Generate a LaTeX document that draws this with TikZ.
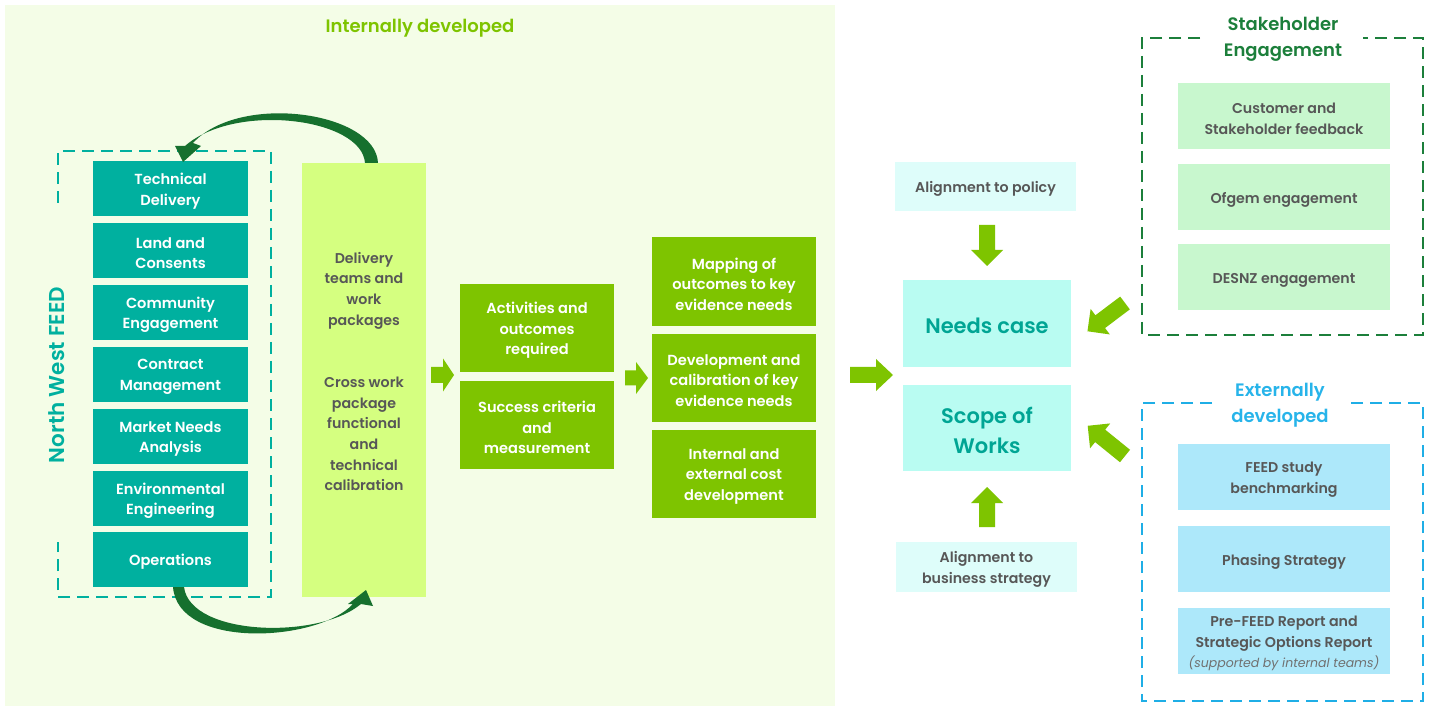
\documentclass[tikz,border=0pt]{standalone}
\usepackage{fontspec}
\setmainfont{Poppins}
% semibold weight for headings and labels
\IfFontExistsTF{Poppins SemiBold}
  {\newfontfamily\semifont{Poppins SemiBold}}
  {\newfontfamily\semifont{Poppins}[FakeBold=1.5]}

\definecolor{bgint}{HTML}{F4FDE7}
\definecolor{tealbx}{HTML}{00B09F}
\definecolor{tealtxt}{HTML}{00A594}
\definecolor{limebx}{HTML}{D5FF80}
\definecolor{grnbx}{HTML}{7EC400}
\definecolor{cyanlt}{HTML}{DEFDFA}
\definecolor{cyanbx}{HTML}{B9FCF2}
\definecolor{stkbx}{HTML}{C8F7CE}
\definecolor{extbx}{HTML}{ADE8FA}
\definecolor{stkdash}{HTML}{1C7F3B}
\definecolor{extdash}{HTML}{1FAEE6}
\definecolor{exttitle}{HTML}{27B4EA}
\definecolor{darkarc}{HTML}{16702E}
\definecolor{greytxt}{HTML}{575757}

% block arrow: #1 start coordinate, #2 angle, #3 length, #4 shaft width, #5 head width, #6 head length
\newcommand\blockarrow[6]{%
  \fill[grnbx,shift={(#1)},rotate=#2]
    (0,#4/2) -- ({#3-#6},#4/2) -- ({#3-#6},#5/2) -- (#3,0)
    -- ({#3-#6},-#5/2) -- ({#3-#6},-#4/2) -- (0,-#4/2) -- cycle;}

\tikzset{
  bx/.style={inner sep=0pt, align=center},
  wtext/.style={bx, text=white, font=\semifont\fontsize{14.6}{20.5}\selectfont},
  gtext/.style={bx, text=greytxt, font=\semifont\fontsize{14.2}{20.7}\selectfont},
  ctext/.style={bx, text=tealtxt, font=\semifont\fontsize{21}{30}\selectfont},
  tealbox/.style={bx, fill=tealbx, minimum width=155, minimum height=55,
    label={[wtext, yshift=-2.5]center:{#1}}},
  greenbox/.style={bx, fill=grnbx, minimum height=88,
    label={[wtext, yshift=-2.5]center:{#1}}},
  lightbox/.style={bx, minimum width=212, minimum height=66,
    label={[gtext, yshift=-2.5]center:{#1}}},
  aligbox/.style={bx, fill=cyanlt, minimum width=181,
    label={[gtext, yshift=-2.5]center:{#1}}},
  bigbox/.style={bx, fill=cyanbx, minimum width=168,
    label={[ctext, yshift=-2]center:{#1}}},
  dashbox/.style={line width=2pt, dash pattern=on 12pt off 7pt},
  title/.style={bx, font=\semifont\fontsize{18}{26}\selectfont},
}

\begin{document}
\begin{tikzpicture}[x=1pt,y=-1pt]
\useasboundingbox (0,0) rectangle (1432,708);
\fill[white] (0,0) rectangle (1432,708);

% internally developed area
\fill[bgint] (5,5) rectangle (835,706);
\node[title, text=grnbx] (ttl) at (420,28) {Internally developed};

% North West FEED group
\draw[dashbox, draw=tealbx] (58,203) -- (58,151) -- (271,151) -- (271,597) -- (58,597) -- (58,542);
\node[bx, text=tealbx, rotate=90, font=\semifont\fontsize{21.5}{24}\selectfont] (nwf) at (57,375) {North West FEED};

\node[tealbox={Technical\\Delivery}] (td) at (170.5,188.5) {};
\node[tealbox={Land and\\Consents}] (lc) at (170.5,250.5) {};
\node[tealbox={Community\\Engagement}] (ce) at (170.5,312.5) {};
\node[tealbox={Contract\\Management}] (cm) at (170.5,374.5) {};
\node[tealbox={Market Needs\\Analysis}] (mn) at (170.5,436.5) {};
\node[tealbox={Environmental\\Engineering}] (ee) at (170.5,498.5) {};
\node[tealbox={Operations}] (op) at (170.5,559.5) {};

% delivery teams column
\node[bx, fill=limebx, minimum width=124, minimum height=434] (yb) at (364,380) {};
\node[gtext] (yt1) at (364,290.5) {Delivery\\teams and\\work\\packages};
\node[gtext] (yt2) at (364,434) {Cross work\\package\\functional\\and\\technical\\calibration};

% feedback loops between the team boxes and the delivery column
\fill[darkarc] (378,163) .. controls (376,112) and (240,92) .. (193,143)
  -- (201,146) -- (183,162) -- (175,146) -- (185,146)
  .. controls (235,102) and (362,118) .. (365,163) -- cycle;
\fill[darkarc] (173,587) .. controls (178,650) and (318,642) .. (353,604)
  -- (348,604) -- (366,590) -- (373,606) -- (361,604)
  .. controls (318,640) and (190,636) .. (184,587) -- cycle;

% activities column
\node[greenbox={Activities and\\outcomes\\required}, minimum width=154] (act) at (537,328) {};
\node[greenbox={Success criteria\\and\\measurement}, minimum width=154] (suc) at (537,425) {};

% evidence column
\node[greenbox={Mapping of\\outcomes to key\\evidence needs}, minimum width=164, minimum height=89] (map) at (734,281.5) {};
\node[greenbox={Development and\\calibration of key\\evidence needs}, minimum width=164] (dev) at (734,378) {};
\node[greenbox={Internal and\\external cost\\development}, minimum width=164] (cost) at (734,474) {};

% flow arrows
\coordinate (a1) at (431,375);
\coordinate (a2) at (625,378);
\coordinate (a3) at (850,375);
\coordinate (a4) at (987,225);
\coordinate (a5) at (987,527);
\coordinate (a6) at (1125,303);
\coordinate (a7) at (1125,456);
\blockarrow{a1}{0}{23}{16}{33}{11}
\blockarrow{a2}{0}{23}{15}{32}{12}
\blockarrow{a3}{0}{43}{16}{32}{17}
\blockarrow{a4}{-90}{41}{16}{32}{16}
\blockarrow{a5}{90}{40}{16}{32}{16}
\blockarrow{a6}{217}{47}{16}{32}{16}
\blockarrow{a7}{141}{48}{16}{32}{16}

% outcomes
\node[aligbox={Alignment to policy}, minimum height=49] (pol) at (985.5,186.5) {};
\node[bigbox={Needs case}, minimum height=87] (need) at (987,323.5) {};
\node[bigbox={Scope of\\Works}, minimum height=86] (scope) at (987,428) {};
\node[aligbox={Alignment to\\business strategy}, minimum height=50] (biz) at (986.5,567) {};

% stakeholder engagement
\draw[dashbox, draw=stkdash] (1200,38) -- (1142,38) -- (1142,335) -- (1423,335) -- (1423,38) -- (1363,38);
\node[title, text=stkdash] (stt) at (1283,39.5) {Stakeholder\\Engagement};
\node[lightbox={Customer and\\Stakeholder feedback}, fill=stkbx] (cust) at (1284,116) {};
\node[lightbox={Ofgem engagement}, fill=stkbx] (ofg) at (1284,197.5) {};
\node[lightbox={DESNZ engagement}, fill=stkbx] (des) at (1284,277.5) {};

% externally developed
\draw[dashbox, draw=extdash] (1212,403) -- (1142,403) -- (1142,701) -- (1423,701) -- (1423,403) -- (1350,403);
\node[title, text=exttitle] (ext) at (1280,405) {Externally\\developed};
\node[lightbox={FEED study\\benchmarking}, fill=extbx] (feed) at (1284,477) {};
\node[lightbox={Phasing Strategy}, fill=extbx] (pha) at (1284,559) {};
\node[lightbox={Pre-FEED Report and\\Strategic Options Report\\[-1pt]{\normalfont\itshape\fontsize{12.5}{14}\selectfont\color{greytxt!85} (supported by internal teams)}}, fill=extbx] (pre) at (1284,641) {};
\end{tikzpicture}
\end{document}
